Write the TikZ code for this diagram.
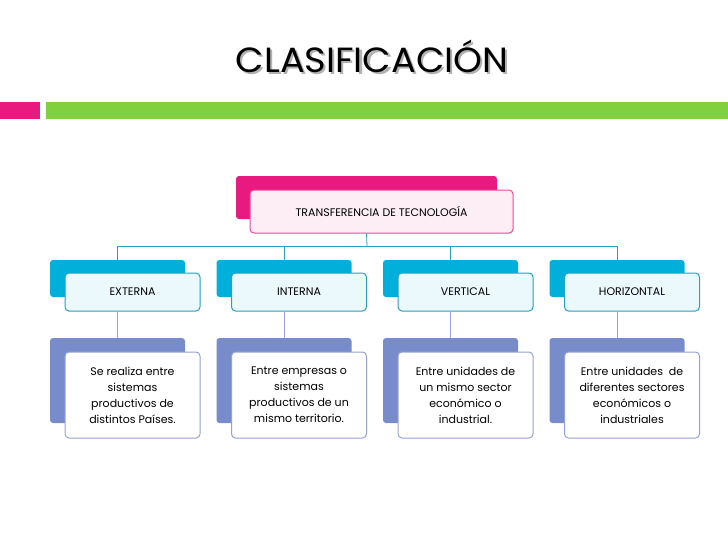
\documentclass[tikz,border=0pt]{standalone}
\usepackage{fontspec}
\setmainfont{Poppins}
\usetikzlibrary{positioning}
\definecolor{rosa}{RGB}{232,26,128}
\definecolor{verde}{RGB}{128,208,64}
\definecolor{cian}{RGB}{0,176,218}
\definecolor{lila}{RGB}{120,140,204}
\tikzset{
  trasera/.style={rounded corners=3pt, minimum width=135pt, inner sep=0pt},
  frente/.style={draw, line width=1pt, rounded corners=4pt, fill=white, minimum width=135pt, inner sep=0pt, align=center},
  conector/.style={draw=cian!70!gray, line width=0.8pt}
}
\begin{document}
\begin{tikzpicture}[x=1pt,y=-1pt]
  \useasboundingbox (0,0) rectangle (728,546);
  \small

  % titulo y barras
  \node (titulo) [font=\fontsize{35}{35}\selectfont, xscale=1.05] at (372,57)
    {\rlap{\raisebox{-2pt}{\hspace{2pt}\textcolor{gray!60}{CLASIFICACIÓN}}}CLASIFICACIÓN};
  \fill[rosa] (0,102) rectangle (40,119);
  \fill[verde] (46,102) rectangle (728,119);

  % nodo raiz
  \node (raizB) [trasera, fill=rosa, minimum width=261pt, minimum height=43pt] at (366.5,197.5) {};
  \node (raiz) [frente, draw=rosa!80, fill=rosa!8, minimum width=263pt, minimum height=43pt, font=\fontsize{11}{13}\selectfont] at (381.5,211.5) {TRANSFERENCIA DE TECNOLOGÍA};
  \coordinate (bus) at (367,246);
  \draw[conector] (raiz.south -| raizB.south) -- (bus);

  \foreach \i/\tipo/\desc in {
      0/EXTERNA/{Se realiza entre\\sistemas\\productivos de\\distintos Países.},
      1/INTERNA/{Entre empresas o\\sistemas\\productivos de un\\mismo territorio.},
      2/VERTICAL/{Entre unidades de\\un mismo sector\\económico o\\industrial.},
      3/HORIZONTAL/{Entre unidades \ de\\diferentes sectores\\económicos o\\industriales}} {
    \pgfmathsetmacro\cx{117.5+166.5*\i}
    \node (tipoB\i) [trasera, fill=cian, minimum height=37pt] at (\cx,278.5) {};
    \node (tipo\i) [frente, draw=cian!70!gray, fill=cian!8, minimum height=38pt, font=\fontsize{11}{13}\selectfont] at (\cx+15,292) {\tipo};
    \node (descB\i) [trasera, fill=lila, minimum height=85pt] at (\cx,380.5) {};
    \node (desc\i) [frente, draw=lila!80, minimum height=86pt, font=\fontsize{11}{16}\selectfont] at (\cx+15,395) {\desc};
    \draw[conector] (bus) -| (tipoB\i.north);
    \draw[draw=lila!80, line width=0.8pt] (tipo\i.south -| tipoB\i.south) -- (descB\i.north);
  }
\end{tikzpicture}
\end{document}
